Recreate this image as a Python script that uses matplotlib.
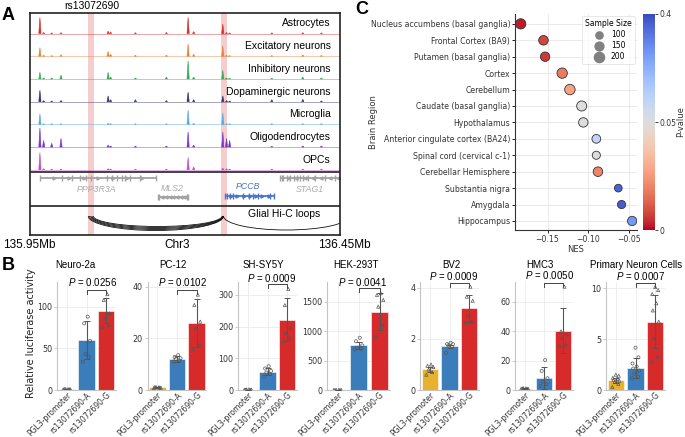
import numpy as np
import matplotlib.pyplot as plt
import matplotlib.transforms as mtrans
from matplotlib.patches import Arc
from matplotlib.colors import TwoSlopeNorm

plt.rcParams['font.family'] = ['DejaVu Sans']
plt.rcParams['mathtext.fontset'] = 'custom'
plt.rcParams['mathtext.it'] = 'Liberation Sans:italic'
plt.rcParams['mathtext.rm'] = 'Liberation Sans'
ARIAL = ['Liberation Sans', 'DejaVu Sans']

# ---------------- panel A data (genome browser, Mb on chr3)
tracks = ['Astrocytes', 'Excitatory neurons', 'Inhibitory neurons',
          'Dopaminergic neurons', 'Microglia', 'Oligodendrocytes', 'OPCs']
track_colors = ['#d62b2b', '#e8803a', '#34a853', '#2d2f6e',
                '#55a9e2', '#7a35c8', '#c24ac9']
peak_mb = [135.966, 135.972, 135.985, 136.000, 136.076, 136.080, 136.120, 136.170,
           136.205, 136.214, 136.261, 136.267, 136.272, 136.340, 136.390, 136.420]
peak_h = [
    [0.85, 0.05, 0.03, 0.04, 0.12, 0.08, 0.04, 0.05, 0.85, 0.10, 0.50, 0.05, 0.03, 0.03, 0.04, 0.03],
    [0.45, 0.05, 0.03, 0.08, 0.25, 0.10, 0.05, 0.05, 0.65, 0.10, 0.55, 0.05, 0.03, 0.03, 0.06, 0.04],
    [0.35, 0.05, 0.05, 0.20, 0.35, 0.10, 0.05, 0.10, 0.95, 0.10, 0.45, 0.05, 0.03, 0.03, 0.10, 0.05],
    [0.60, 0.05, 0.03, 0.05, 0.30, 0.10, 0.10, 0.05, 0.50, 0.10, 0.30, 0.05, 0.03, 0.10, 0.12, 0.03],
    [0.55, 0.03, 0.03, 0.03, 0.05, 0.03, 0.03, 0.03, 0.75, 0.05, 0.60, 0.03, 0.03, 0.03, 0.03, 0.03],
    [1.00, 0.35, 0.20, 0.45, 0.10, 0.05, 0.05, 0.05, 0.80, 0.10, 0.80, 0.45, 0.35, 0.03, 0.05, 0.05],
    [0.90, 0.05, 0.03, 0.03, 0.05, 0.03, 0.03, 0.03, 0.65, 0.15, 0.08, 0.05, 0.03, 0.03, 0.03, 0.03],
]
snp_bands = [(136.044, 136.054), (136.2576, 136.267)]

genes = ['PPP3R3A', 'MLS2', 'PCCB', 'STAG1']
gene_start = [135.966, 136.157, 136.264, 136.353]
gene_end = [136.154, 136.205, 136.345, 136.46]
gene_strand = ['+', '-', '+', '-']
gene_exons = [
    [135.966, 136.001, 136.017, 136.031, 136.041, 136.049, 136.074, 136.082,
     136.090, 136.098, 136.103, 136.111, 136.127, 136.154],
    [136.157, 136.158, 136.204, 136.205],
    [136.2645, 136.267, 136.2726, 136.2774, 136.2935, 136.303, 136.310, 136.318,
     136.337, 136.344],
    [136.353, 136.356, 136.3585, 136.364, 136.369, 136.375, 136.380, 136.385,
     136.391, 136.399, 136.410, 136.426, 136.442],
]
loop_start = [136.044, 136.046, 136.048, 136.050, 136.052, 136.262]
loop_end = [136.262, 136.262, 136.261, 136.261, 136.260, 136.465]
loop_depth = [14.5, 13.5, 12.5, 11.5, 10.5, 14.0]

# ---------------- panel B data (luciferase)
cells = ['Neuro-2a', 'PC-12', 'SH-SY5Y', 'HEK-293T', 'BV2', 'HMC3', 'Primary Neuron Cells']
constructs = ['PGL3-promoter', 'rs13072690-A', 'rs13072690-G']
p_text = ['0.0256', '0.0102', '0.0009', '0.0041', '0.0009', '0.0050', '0.0007']
means = [[1, 60, 95], [1, 12, 26], [1, 58, 222], [1, 765, 1335],
         [0.82, 1.72, 3.2], [1, 8, 40.5], [0.95, 2.15, 6.7]]
sds = [[0.2, 23, 15], [0.15, 1.0, 9.3], [0.5, 10, 68], [0.3, 60, 310],
       [0.1, 0.06, 0.52], [0.2, 7.5, 15.5], [0.25, 1.0, 2.6]]
points = [
    [[0.8, 1.0, 1.2, 0.9, 1.1, 1.0], [34, 40, 43, 59, 80, 88], [76, 78, 86, 92, 108, 115]],
    [[0.8, 1.0, 1.1, 0.9, 1.2, 1.0], [11, 11.5, 12, 12.3, 12.8, 13.5], [16, 17.5, 24, 26.5, 33, 37]],
    [[0.5, 1.0, 1.5, 0.8, 1.2, 2.0], [42, 50, 55, 60, 68, 75], [155, 164, 180, 196, 268, 319]],
    [[0.8, 1.0, 1.2, 0.9, 1.1, 1.0], [690, 700, 720, 760, 830, 890], [910, 1108, 1420, 1534, 1620, 1648]],
    [[0.6, 0.7, 0.8, 0.9, 0.95, 1.0], [1.45, 1.7, 1.75, 1.8, 1.8, 1.85], [2.65, 2.68, 2.9, 3.5, 3.66, 4.05]],
    [[0.8, 1.0, 1.2, 0.9, 1.1, 1.0], [2.7, 3.9, 5.7, 8, 13, 20.4], [30, 31, 35.4, 38, 40, 70.4]],
    [[0.3, 0.6, 0.8, 0.9, 1.0, 1.1, 1.2, 1.4, 1.5], [1.15, 1.3, 1.6, 1.9, 2.1, 2.3, 2.6, 3.2, 4.15],
     [2.8, 3.26, 5.07, 6.7, 7.8, 8.5, 9.4, 9.8, 10.1]],
]
y_max = [129.6, 41.9, 341, 1840, 4.235, 73.6, 10.59]
y_ticks = [[0, 50, 100], [0, 20, 40], [0, 100, 200, 300], [0, 500, 1000, 1500],
           [0, 2, 4], [0, 20, 40, 60], [0, 5, 10]]

# ---------------- panel C data (GTEx brain eQTL)
regions = ['Nucleus accumbens (basal ganglia)', 'Frontal Cortex (BA9)', 'Putamen (basal ganglia)',
           'Cortex', 'Cerebellum', 'Caudate (basal ganglia)', 'Hypothalamus',
           'Anterior cingulate cortex (BA24)', 'Spinal cord (cervical c-1)',
           'Cerebellar Hemisphere', 'Substantia nigra', 'Amygdala', 'Hippocampus']
nes = [-0.183, -0.155, -0.153, -0.132, -0.1225, -0.108, -0.106,
       -0.090, -0.090, -0.088, -0.063, -0.059, -0.046]
p_val = [0.002, 0.008, 0.006, 0.018, 0.027, 0.052, 0.051,
         0.12, 0.055, 0.02, 0.36, 0.37, 0.27]
sample_n = [202, 175, 170, 205, 209, 194, 170, 147, 126, 175, 114, 129, 165]

# ---------------- figure
W, H = 685, 437
fig = plt.figure(figsize=(W / 100, H / 100), dpi=100)


def rect(l, t, r, b):
    return [l / W, 1 - b / H, (r - l) / W, (b - t) / H]


def ftext(x, y, s, **kw):
    fig.text(x / W, 1 - y / H, s, **kw)


ftext(8, 15, 'A', fontsize=13, fontweight='bold', family=ARIAL, ha='center', va='center')
ftext(8, 266, 'B', fontsize=13, fontweight='bold', family=ARIAL, ha='center', va='center')
ftext(362, 9, 'C', fontsize=13, fontweight='bold', family=ARIAL, ha='center', va='center')

# ----- A
axA = fig.add_axes(rect(30, 13, 340, 235))
axA.set_xlim(135.95, 136.45)
axA.set_ylim(222, 0)
axA.set_xticks([])
axA.set_yticks([])
for s in axA.spines.values():
    s.set_linewidth(1.2)
    s.set_color('#222222')
for lo, hi in snp_bands:
    axA.axvspan(lo, hi, color='#f5cdcd', lw=0, zorder=0)

track_h = 22.7
for i, (name, col) in enumerate(zip(tracks, track_colors)):
    top = i * track_h
    base = top + 20.5
    axA.plot([135.95, 136.45], [base, base], color=col, lw=0.5, alpha=0.6)
    for p, h in zip(peak_mb, peak_h[i]):
        axA.fill([p - 0.0018, p, p + 0.0018], [base, base - h * 19, base],
                 color=col, lw=0.4, ec=col)
    axA.text(136.435, top + 10.5, name, ha='right', va='center', fontsize=7.5, family=ARIAL)
axA.axhline(159, color='#222222', lw=1.2)
axA.axhline(193, color='#222222', lw=1.2)

gene_y = [165, 184, 183, 165]
gene_col = ['#a3a3a3', '#a3a3a3', '#4a74c9', '#a3a3a3']
label_pos = [(136.058, 176.5), (136.18, 175), (136.301, 173.5), (136.402, 176.5)]
label_col = ['#aaaaaa', '#aaaaaa', '#4a74c9', '#aaaaaa']
for g in range(len(genes)):
    y = gene_y[g]
    col = gene_col[g]
    axA.plot([gene_start[g], gene_end[g]], [y, y], color=col, lw=1.3, solid_capstyle='butt')
    axA.vlines(gene_exons[g], y - 3, y + 3, color=col, lw=1.0)
    arr = np.linspace(gene_start[g], gene_end[g], 9)[1:-1]
    axA.plot(arr, [y] * len(arr), ls='none', marker='>' if gene_strand[g] == '+' else '<',
             ms=2.2, color=col)
    axA.text(label_pos[g][0], label_pos[g][1], genes[g], ha='center', va='center',
             fontsize=6.3, style='italic', color=label_col[g], family=ARIAL)

for l, r, d in zip(loop_start, loop_end, loop_depth):
    axA.add_patch(Arc(((l + r) / 2, 203), r - l, 2 * d, theta1=0, theta2=180,
                      color='#111111', lw=0.6))
axA.text(136.36, 201, 'Glial Hi-C loops', ha='center', va='center', fontsize=7.5, family=ARIAL)

ftext(29, 245, '135.95Mb', ha='center', va='center', fontsize=8.5, family=ARIAL)
ftext(177, 245, 'Chr3', ha='center', va='center', fontsize=8.5, family=ARIAL)
ftext(344, 245, '136.45Mb', ha='center', va='center', fontsize=8.5, family=ARIAL)
ftext(92, 6, 'rs13072690', ha='center', va='center', fontsize=7.5, family=ARIAL)

# ----- B
bar_colors = ['#e8b230', '#3b7dba', '#d72a2b']
markers = ['^', 'o', '^']
jit = [-0.18, 0.12, -0.06, 0.18, -0.12, 0.06, -0.15, 0.15, 0.0]
b_left = [57, 147.5, 238, 327, 420, 515, 606]
b_width = [59, 59, 59, 63, 59, 58, 59]
title_x = [75, 173, 263, 356, 451, 540, 636]
p_x = [93, 182, 272, 362, 454, 550, 640]
p_y = [282, 282, 278, 282, 276, 275, 276]
bracket_y = [290, 290, 284, 288, 283, 283, 283]
for k, cell in enumerate(cells):
    ax = fig.add_axes(rect(b_left[k], 282, b_left[k] + b_width[k], 390))
    x = np.arange(3)
    ax.bar(x, means[k], width=0.84, color=bar_colors, edgecolor='white', lw=0.4, zorder=2)
    ax.errorbar(x, means[k], yerr=sds[k], fmt='none', ecolor='#555555',
                elinewidth=0.8, capsize=2, capthick=0.7, zorder=3)
    for j in range(3):
        vals = points[k][j]
        ax.scatter(j + np.array(jit[:len(vals)]), vals, marker=markers[j], s=5,
                   facecolors='none', edgecolors='#555555', linewidths=0.5, zorder=4)
    ax.set_xlim(-0.5, 2.5)
    ax.set_ylim(0, y_max[k])
    ax.set_yticks(y_ticks[k])
    ax.set_xticks(x)
    ax.set_xticklabels(constructs, rotation=45, ha='right', rotation_mode='anchor', fontsize=5.5)
    ax.grid(color='#ebebeb', lw=0.6)
    ax.set_axisbelow(True)
    for s in ['top', 'right']:
        ax.spines[s].set_visible(False)
    for s in ['left', 'bottom']:
        ax.spines[s].set_color('#c4c4c4')
        ax.spines[s].set_linewidth(0.8)
    ax.tick_params(axis='y', length=2, width=0.6, color='#c4c4c4', labelsize=5.8,
                   labelcolor='#333333', pad=1.5)
    ax.tick_params(axis='x', length=0, labelcolor='#333333', pad=0.5)
    tr = mtrans.blended_transform_factory(ax.transData, fig.transFigure)
    yb = 1 - bracket_y[k] / H
    leg_len = 3.5 / H
    ax.plot([1, 1, 2, 2], [yb - leg_len, yb, yb, yb - leg_len], transform=tr,
            color='#444444', lw=0.7, clip_on=False)
    ftext(p_x[k], p_y[k], r'$\it{P}$ = ' + p_text[k], ha='center', va='center',
          fontsize=7, family=ARIAL)
    ftext(title_x[k], 265, cell, ha='center', va='center', fontsize=7, family=ARIAL)

ftext(31, 333, 'Relative luciferase activity', rotation=90, ha='center', va='center',
      fontsize=7, color='#222222')

# ----- C
axC = fig.add_axes(rect(515, 14, 637, 230))
norm = TwoSlopeNorm(vmin=0, vcenter=0.05, vmax=0.4)
yy = np.arange(len(regions))
sc = axC.scatter(nes, yy, s=np.array(sample_n) * 0.27, c=p_val, cmap='coolwarm_r', norm=norm,
                 edgecolors='#333333', linewidths=0.6, zorder=3)
axC.set_yticks(yy)
axC.set_yticklabels(regions)
axC.set_ylim(12.55, -0.6)
axC.set_xlim(-0.19, -0.04)
axC.set_xticks([-0.15, -0.10, -0.05])
axC.grid(color='#e6e6e6', lw=0.6)
axC.set_axisbelow(True)
for s in ['top', 'right']:
    axC.spines[s].set_visible(False)
for s in ['left', 'bottom']:
    axC.spines[s].set_color('#333333')
    axC.spines[s].set_linewidth(0.8)
axC.tick_params(length=2, width=0.6, labelsize=5.6, labelcolor='#333333', pad=1.5)
axC.set_xlabel('NES', fontsize=6, labelpad=1, color='#333333')
axC.set_ylabel('Brain Region', fontsize=6, color='#333333')
axC.yaxis.set_label_coords(-1.12, 0.5)

handles = [axC.scatter([], [], s=n * 0.27, color='#808080') for n in [100, 150, 200]]
leg = axC.legend(handles, ['100', '150', '200'], title='Sample Size', loc='upper right',
                 fontsize=5.5, title_fontsize=5.5, frameon=True, borderaxespad=0.3,
                 handletextpad=0.6, labelspacing=0.25, borderpad=0.4)
leg.get_frame().set_edgecolor('#dddddd')
leg.get_frame().set_linewidth(0.6)

cax = fig.add_axes(rect(643, 14, 655, 230))
cb = fig.colorbar(sc, cax=cax, ticks=[0, 0.05, 0.4])
cb.ax.set_yticklabels(['0', '0.05', '0.4'])
cb.outline.set_visible(False)
cb.ax.tick_params(labelsize=5.5, length=2, width=0.5, pad=1, labelcolor='#333333')
cb.set_label('P-value', fontsize=6, color='#333333', labelpad=0)

fig.savefig('out.png', dpi=100)
